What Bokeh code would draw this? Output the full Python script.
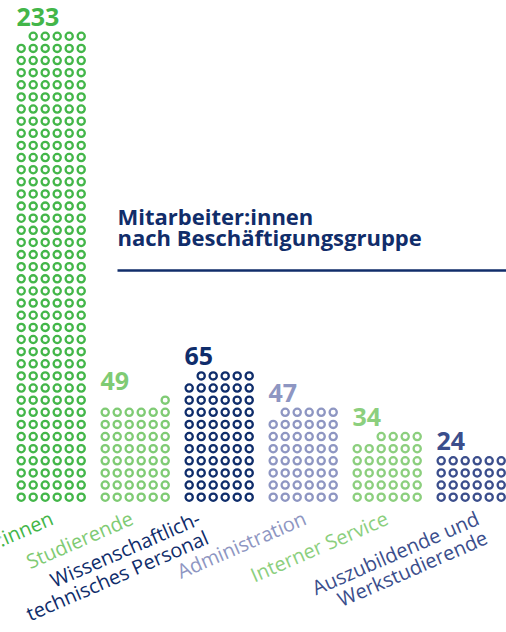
import math
from bokeh.plotting import figure
from bokeh.models import ColumnDataSource, Range1d, Label
from bokeh.core.properties import value
from bokeh.embed import file_html
from bokeh.resources import INLINE

# ---------------- data ----------------
categories = [
    "Wissenschaftler:innen",
    "Studierende",
    "Wissenschaftlich-\ntechnisches Personal",
    "Administration",
    "Interner Service",
    "Auszubildende und\nWerkstudierende",
]
counts = [233, 49, 65, 47, 34, 24]
colors = ["#43b649", "#7fcb74", "#0f2d6b", "#8e96c2", "#8ccf7e", "#3b4e8c"]
title_lines = ["Mitarbeiter:innen", "nach Beschäftigungsgruppe"]

# ---------------- layout ----------------
PER_ROW = 6          # dots per row in each group
GROUP_STEP = 7       # 6 dots + 1 empty slot between groups
W, H = 506, 632
PX_X, PX_Y = 12.0, 12.13     # pixel size of one dot slot
X0_PX, Y0_PX = 20.7, 496.7   # screen position of first/bottom dot
label_nudge_px = [3, -1, -18, 4, 2, 9]
ANGLE = 23.5
LINE_H = 21
FONT = "Open Sans"
NUM_FS, LAB_FS, TITLE_FS = 25, 20, 22
DESC = 0.3   # compensation: text placed above anchor by descent

x_range = Range1d(-X0_PX / PX_X, (W - X0_PX) / PX_X)
y_range = Range1d(-(H - Y0_PX) / PX_Y, Y0_PX / PX_Y)

p = figure(width=W, height=H, x_range=x_range, y_range=y_range,
           output_backend="svg", toolbar_location=None, min_border=0,
           x_axis_location=None, y_axis_location=None,
           styles={"margin": "0px"})
p.outline_line_color = None
p.grid.visible = False
p.background_fill_color = "white"
p.border_fill_color = "white"

a = math.radians(ANGLE)
dx, dy, dc = [], [], []
nx, ny, nt, nc = [], [], [], []
lx, ly, lt, lc = [], [], [], []
for i, (cat, n, c) in enumerate(zip(categories, counts, colors)):
    full, rem = divmod(n, PER_ROW)
    base = i * GROUP_STEP
    for r in range(full):
        for j in range(PER_ROW):
            dx.append(base + j); dy.append(r); dc.append(c)
    if rem:
        for j in range(PER_ROW - rem, PER_ROW):
            dx.append(base + j); dy.append(full); dc.append(c)
    top = full if rem else full - 1
    nx.append(base - 0.4)
    ny.append(top + 1.0 + DESC * NUM_FS / PX_Y)
    nt.append(str(n)); nc.append(c)
    # category labels (rotated, right aligned, one entry per line)
    d = DESC * LAB_FS
    cx = base + (PER_ROW - 1) / 2 + (label_nudge_px[i] - d * math.sin(a)) / PX_X
    cy = -(522 - Y0_PX - d * math.cos(a)) / PX_Y
    for k, line in enumerate(cat.split("\n")):
        lx.append(cx + k * LINE_H * math.sin(a) / PX_X)
        ly.append(cy - k * LINE_H * math.cos(a) / PX_Y)
        lt.append(line); lc.append(c)

p.scatter(x="x", y="y", source=ColumnDataSource(dict(x=dx, y=dy, color=dc)),
          marker="circle", size=7.2, fill_color="white", line_color="color",
          line_width=2.3)

p.text(x="x", y="y", text="text", source=ColumnDataSource(dict(x=nx, y=ny, text=nt, color=nc)),
       text_color="color", text_font=value(FONT), text_font_size=f"{NUM_FS}px",
       text_font_style="bold", text_align="left", text_baseline="alphabetic")

p.text(x="x", y="y", text="text", source=ColumnDataSource(dict(x=lx, y=ly, text=lt, color=lc)),
       text_color="color", text_font=value(FONT), text_font_size=f"{LAB_FS}px",
       text_align="right", text_baseline="alphabetic", angle=ANGLE, angle_units="deg")

# title + rule
tx = (117 - X0_PX) / PX_X
for k, t in enumerate(title_lines):
    ty = (Y0_PX - (221.7 + k * 21.8) + DESC * TITLE_FS) / PX_Y
    p.add_layout(Label(x=tx, y=ty, text=t, text_font=FONT, text_font_size=f"{TITLE_FS}px",
                       text_font_style="bold", text_color="#112d6a",
                       text_baseline="alphabetic"))
ry = (Y0_PX - 270) / PX_Y
p.line(x=[tx, x_range.end], y=[ry, ry], line_color="#112d6a", line_width=2.5)

open("out.html", "w").write(file_html(p, INLINE))
